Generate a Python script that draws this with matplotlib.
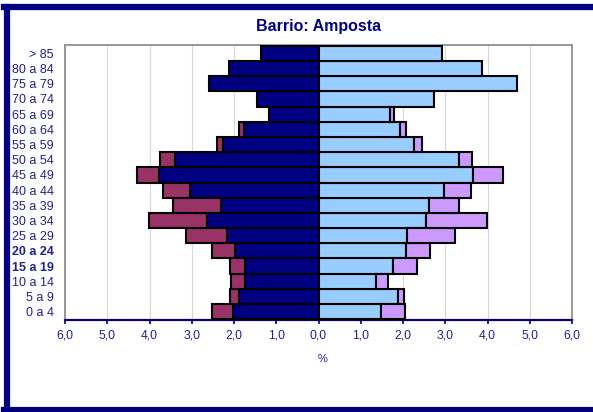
import matplotlib.pyplot as plt
from matplotlib.lines import Line2D
import numpy as np

plt.rcParams['font.family'] = ['Liberation Sans', 'DejaVu Sans']

# age groups, youngest first
grupos = ['0 a 4', '5 a 9', '10 a 14', '15 a 19', '20 a 24', '25 a 29', '30 a 34',
          '35 a 39', '40 a 44', '45 a 49', '50 a 54', '55 a 59', '60 a 64',
          '65 a 69', '70 a 74', '75 a 79', '80 a 84', '> 85']

# % of population
hombres_esp = [2.03, 1.89, 1.75, 1.73, 1.98, 2.16, 2.65, 2.30, 3.05, 3.78, 3.39,
               2.25, 1.77, 1.17, 1.45, 2.58, 2.13, 1.37]
hombres_ext = [0.49, 0.21, 0.32, 0.36, 0.55, 0.97, 1.37, 1.14, 0.63, 0.51, 0.35,
               0.15, 0.11, 0.0, 0.0, 0.0, 0.0, 0.0]
mujeres_esp = [1.49, 1.88, 1.36, 1.76, 2.06, 2.10, 2.55, 2.61, 2.96, 3.66, 3.33,
               2.25, 1.94, 1.69, 2.74, 4.71, 3.87, 2.92]
mujeres_ext = [0.55, 0.15, 0.29, 0.56, 0.59, 1.12, 1.43, 0.72, 0.65, 0.70, 0.30,
               0.19, 0.14, 0.09, 0.0, 0.0, 0.0, 0.0]

navy = '#000080'
txt = '#22228a'

fig = plt.figure(figsize=(5.93, 4.12), dpi=100)
ax = fig.add_axes([65/593, 1 - 320/412, (572 - 65)/593, (320 - 45)/412])

y = np.arange(len(grupos))
he = np.array(hombres_esp)
hx = np.array(hombres_ext)
me = np.array(mujeres_esp)
mx = np.array(mujeres_ext)

kw = dict(height=1.0, edgecolor='black', linewidth=1.5, zorder=3)
ax.barh(y, -he, color=navy, **kw)
ax.barh(y[hx > 0], -hx[hx > 0], left=-he[hx > 0], color='#993366', **kw)
ax.barh(y, me, color='#99CCFF', **kw)
ax.barh(y[mx > 0], mx[mx > 0], left=me[mx > 0], color='#CC99FF', **kw)

ax.set_xlim(-6, 6)
ax.set_ylim(-0.55, len(grupos) - 0.45)
ticks = np.arange(-6, 7, 1)
ax.set_xticks(ticks)
ax.set_xticklabels([f'{abs(t):.1f}'.replace('.', ',') for t in ticks],
                   color=txt, fontsize=8.8)
ax.set_yticks(y)
ax.set_yticklabels(grupos, color=txt, fontsize=9)
for lbl in ax.get_yticklabels():
    if lbl.get_text() in ('20 a 24', '15 a 19'):
        lbl.set_fontweight('bold')
ax.tick_params(axis='y', length=0, pad=8)
ax.tick_params(axis='x', length=3, color=navy, width=1.2, pad=4)

ax.grid(axis='x', color='#d8d8d8', linewidth=0.8, zorder=0)
for s in ('top', 'left', 'right'):
    ax.spines[s].set_color('#909090')
    ax.spines[s].set_linewidth(1.3)
ax.spines['bottom'].set_color(navy)
ax.spines['bottom'].set_linewidth(1.6)

ax.set_xlabel('%', color=txt, fontsize=8)
ax.xaxis.set_label_coords(0.508, -0.125)

fig.text(0.538, 1 - 27/412, 'Barrio: Amposta', ha='center', va='center',
         fontsize=11.5, fontweight='bold', color=navy)

# frame around the chart
fig.add_artist(Line2D([7/593, 7/593], [2/412, 1 - 7/412], color=navy,
                      linewidth=4.5, transform=fig.transFigure))
fig.add_artist(Line2D([4/593, 1], [1 - 7/412, 1 - 7/412], color=navy,
                      linewidth=4.5, transform=fig.transFigure))
fig.add_artist(Line2D([4/593, 1], [2/412, 2/412], color=navy,
                      linewidth=4.5, transform=fig.transFigure))

fig.savefig('out.png', dpi=100)
